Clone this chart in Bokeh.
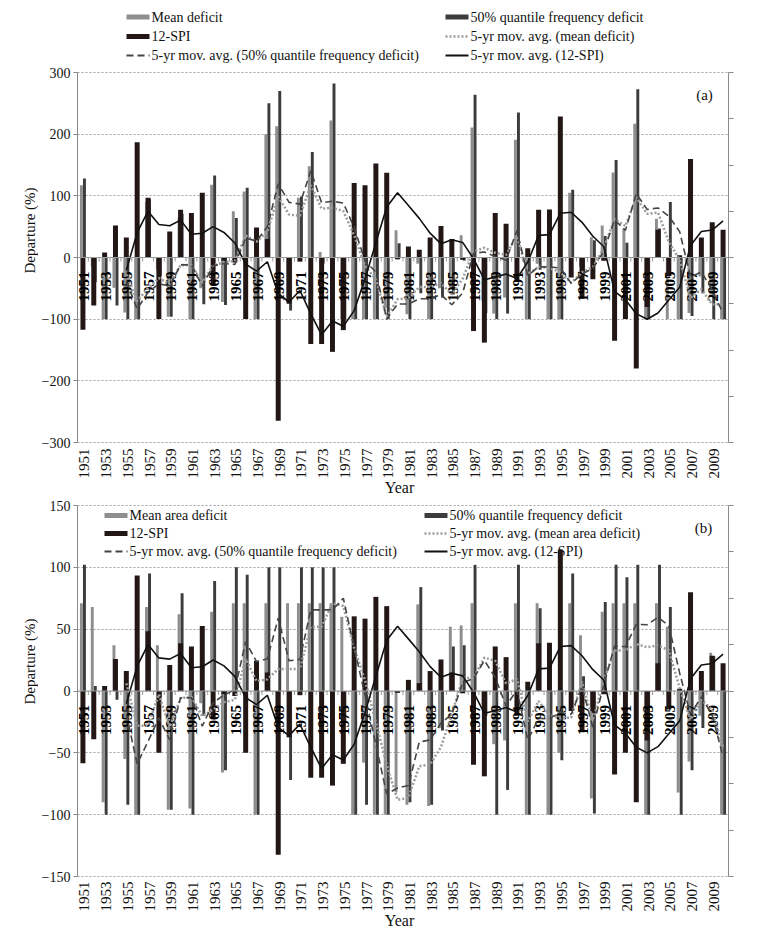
import math
import pandas as pd
from bokeh.plotting import figure
from bokeh.models import Range1d, LinearAxis, FixedTicker, Span
from bokeh.layouts import column, row
from bokeh.embed import file_html
from bokeh.resources import INLINE
from bokeh.core.properties import value

# ---------------- data ----------------
years = list(range(1951, 2011))
tick_years = list(range(1951, 2010, 2))
tick_labels = [str(y) for y in tick_years]

# 12-month SPI (secondary axis, -4..4)
spi_12 = [-1.56, -1.04, 0.11, 0.69, 0.43, 2.49, 1.29, -1.33, 0.56, 1.03,
          0.96, 1.40, -0.61, -0.07, -0.11, -1.33, 0.65, 0.40, -3.53, -1.00,
          -0.09, -1.87, -1.87, -2.04, -1.57, 1.61, 1.56, 2.03, 1.83, -0.04,
          0.24, 0.17, 0.43, 0.68, 0.40, -0.05, -1.59, -1.84, 0.96, 0.73,
          -0.53, 0.20, 1.03, 1.04, 3.05, -0.43, -0.89, -0.47, -0.07, -1.80,
          -1.33, -2.40, -1.07, 0.60, -0.40, 0.05, 2.13, 0.43, 0.76, 0.60]

# panel (a): departure (%)
mean_deficit = [117, -15, -100, -49, -89, -100, 90, -20, -96, 65,
                -100, -50, 118, -72, 75, 107, -100, 200, 213, -72,
                97, 148, 9, 222, -100, -100, -100, -100, -82, 44,
                -92, -10, -100, -50, -48, 36, 211, -70, -91, -65,
                191, -100, -10, -100, -100, 105, -15, 33, 52, 138,
                47, 217, -100, 63, -100, -100, -90, -31, -60, -100]
q50_deficit_a = [128, -40, -100, -78, -100, -100, 95, -30, -96, 71,
                 -100, -76, 133, -77, 64, 113, -100, 250, 270, -86,
                 99, 171, -10, 282, -100, -100, -100, -100, -100, 23,
                 -100, -58, -100, -65, -60, -5, 264, -90, -100, -91,
                 235, -100, -20, -100, -100, 110, -25, 28, 35, 158,
                 24, 273, -100, 47, 90, -100, -95, -58, -100, -100]

# panel (b): departure (%)
mean_area_deficit = [71, 68, -90, 37, -55, -100, 68, 37, -96, 62,
                     -95, -10, 64, -66, 71, 71, -100, 71, -24, 71,
                     71, 71, 71, 71, 60, -100, -58, -100, -100, -82,
                     -92, 70, -93, -30, 52, 53, 71, -11, -43, -40,
                     71, -100, 71, -100, -50, 71, 45, -87, 64, 71,
                     71, 71, -100, 71, 52, -82, -57, -20, 31, -100]
q50_deficit_b = [102, 4, -100, -7, -92, -100, 95, -5, -96, 79,
                 -100, -20, 89, -64, 100, 94, -100, 100, 100, -72,
                 100, 100, 100, 100, -25, -100, -92, -100, -100, 0,
                 -90, 84, -92, -32, 36, 37, 102, -20, -100, -80,
                 102, -100, 67, -100, -56, 95, 12, -99, 72, 102,
                 92, 102, -100, 102, 68, -100, -64, -30, 28, -100]

legend_a = ["Mean deficit", "12-SPI", "5-yr mov. avg. (50% quantile frequency deficit)",
            "50% quantile frequency deficit", "5-yr mov. avg. (mean deficit)",
            "5-yr mov. avg. (12-SPI)"]
legend_b = ["Mean area deficit", "12-SPI", "5-yr mov. avg. (50% quantile frequency deficit)",
            "50% quantile frequency deficit", "5-yr mov. avg. (mean area deficit)",
            "5-yr mov. avg. (12-SPI)"]
y_title = "Departure (%)"

# ---------------- style / layout ----------------
SERIF = "Liberation Serif"
C_MEAN = "#8e8e8e"
C_Q50 = "#3c3c3c"
C_SPI = "#221714"
C_MA_MEAN = "#9c9c9c"
C_MA_Q50 = "#454545"
C_MA_SPI = "#111111"
C_AXIS = "#8a8a8a"
C_TXT = "#111111"
PX0 = 1           # page x of layout's left edge
PY0 = 1           # page y of layout's top edge
TITLE_W = 38      # width of the strip holding the y titles
FRAME_L = 78      # page x of left axis
FRAME_W = 651
TOTAL_W = 763
PANEL_W = TOTAL_W - TITLE_W
PANEL_X0 = PX0 + TITLE_W


def ma5(vals):
    s = pd.Series(vals, dtype=float).rolling(5).mean()
    return years[4:], s.tolist()[4:]


def make_panel(mean_vals, q50_vals, legend_texts, tag, cfg):
    ftop, fbot = cfg["fig_top"], cfg["fig_bot"]
    ax_top, ax_bot = cfg["ax_top"], cfg["ax_bot"]
    ylim = cfg["ylim"]
    ys = (ax_bot - ax_top) / (2.0 * ylim)          # px per unit
    y_end = ylim + (ax_top - ftop) / ys
    y_start = -ylim - (fbot - ax_bot) / ys
    xs = FRAME_W / 60.0
    height = fbot - ftop

    def dx(px):
        return 1950.5 + (px - FRAME_L) / xs

    def dy(py):
        return y_end - (py - ftop) / ys

    spi_unit = ylim / 4.0
    p = figure(width=PANEL_W, height=height, output_backend="svg", toolbar_location=None,
               x_range=Range1d(1950.5, 2010.5), y_range=Range1d(y_start, y_end),
               min_border_left=FRAME_L - PANEL_X0,
               min_border_right=PANEL_W - (FRAME_L - PANEL_X0) - FRAME_W,
               min_border_top=0, min_border_bottom=0)
    p.extra_y_ranges = {"spi": Range1d(y_start / spi_unit, y_end / spi_unit)}
    p.outline_line_color = None
    p.background_fill_color = "white"
    p.border_fill_color = "white"
    p.xaxis.visible = False

    # grid
    step = ylim / 3.0
    yt = [-ylim + i * step for i in range(7)]
    p.xgrid.visible = False
    p.ygrid.ticker = FixedTicker(ticks=yt)
    p.ygrid.grid_line_color = "#a0a0a0"
    p.ygrid.grid_line_dash = "2 2"
    p.ygrid.grid_line_width = 1

    # left axis
    ya = p.yaxis[0]
    ya.ticker = FixedTicker(ticks=yt)
    ya.bounds = (-ylim, ylim)
    ya.major_label_overrides = {v: (("\u2212" + str(int(abs(v)))) if v < 0 else str(int(v))) for v in yt}
    ya.axis_line_color = C_AXIS
    ya.major_tick_line_color = C_AXIS
    ya.major_tick_out = 4
    ya.major_tick_in = 0
    ya.minor_tick_line_color = None
    ya.major_label_text_font = SERIF
    ya.major_label_text_font_size = "14px"
    ya.major_label_text_color = C_TXT
    ya.major_label_standoff = 3

    # right (secondary) axis, ticks only
    ra = LinearAxis(y_range_name="spi", ticker=FixedTicker(ticks=list(range(-4, 5))))
    ra.bounds = (-4, 4)
    ra.major_label_overrides = {i: "" for i in range(-4, 5)}
    ra.axis_line_color = C_AXIS
    ra.major_tick_line_color = C_AXIS
    ra.major_tick_out = 5
    ra.major_tick_in = 0
    ra.minor_tick_line_color = None
    p.add_layout(ra, "right")

    # legend (drawn first so bars lie over it)
    rows = cfg["leg_rows"]
    cols = cfg["leg_cols"]
    kinds = [("rect", C_MEAN), ("rect", C_SPI), ("dash", C_MA_Q50),
             ("rect", C_Q50), ("dot", C_MA_MEAN), ("solid", C_MA_SPI)]
    for k, (kind, col) in enumerate(kinds):
        cx = cols[k // 3]
        ry = rows[k % 3]
        if kind == "rect":
            p.rect(x=[dx(cx + 11.5)], y=[dy(ry)], width=23 / xs, height=5 / ys,
                   fill_color=col, line_color=None)
        else:
            dash = {"dash": "7 4", "dot": "2 2", "solid": "solid"}[kind]
            lw = {"dash": 2, "dot": 2.5, "solid": 2}[kind]
            p.segment(x0=[dx(cx)], y0=[dy(ry)], x1=[dx(cx + 23)], y1=[dy(ry)],
                      line_color=col, line_dash=dash, line_width=lw)
        p.text(x=[dx(cx + 25)], y=[dy(ry)], text=[legend_texts[k]],
               text_font=value(SERIF), text_font_size="14px", text_color=C_TXT,
               text_align="left", text_baseline="middle")

    p.text(x=[dx(cfg["tag_xy"][0])], y=[dy(cfg["tag_xy"][1])], text=[tag],
           text_font=value(SERIF), text_font_size="15px", text_color=C_TXT,
           text_align="center", text_baseline="middle")

    # bars
    p.vbar(x=[y - 0.14 for y in years], top=mean_vals, bottom=0, width=0.27,
           fill_color=C_MEAN, line_color=None)
    p.vbar(x=[y + 0.14 for y in years], top=q50_vals, bottom=0, width=0.27,
           fill_color=C_Q50, line_color=None)
    p.vbar(x=years, top=spi_12, bottom=0, width=0.46, y_range_name="spi",
           fill_color=C_SPI, line_color=None)

    # zero line with category ticks
    p.add_layout(Span(location=0, dimension="width", line_color="#9a9a9a", line_width=1))
    bnd = [y + 0.5 for y in years[:-1]]
    p.segment(x0=bnd, y0=[0] * len(bnd), x1=bnd, y1=[-4 / ys] * len(bnd),
              line_color="#9a9a9a", line_width=1)

    # bold category labels along the zero line
    p.text(x=tick_years, y=[0] * len(tick_years), text=tick_labels, angle=math.pi / 2,
           text_align="right", text_baseline="middle", y_offset=14, x_offset=1,
           text_font=value(SERIF), text_font_style="bold", text_font_size="15px",
           text_color="#000000")

    # 5-year moving averages
    xm, ym = ma5(mean_vals)
    p.line(xm, ym, line_color=C_MA_MEAN, line_dash="2 2", line_width=2.5)
    xq, yq = ma5(q50_vals)
    p.line(xq, yq, line_color=C_MA_Q50, line_dash="7 4", line_width=1.6)
    xsp, ysp = ma5(spi_12)
    p.line(xsp, ysp, line_color=C_MA_SPI, line_width=1.6, y_range_name="spi")

    # category (year) labels below the plot area and the x title
    p.text(x=tick_years, y=[dy(cfg["xlab_top"])] * len(tick_years), text=tick_labels,
           angle=math.pi / 2, text_align="right", text_baseline="middle", x_offset=1.5,
           text_font=value(SERIF), text_font_size="15px", text_color=C_TXT)
    p.text(x=[dx(400)], y=[dy(cfg["year_y"])], text=["Year"],
           text_font=value(SERIF), text_font_size="16px", text_color=C_TXT,
           text_align="center", text_baseline="middle")
    return p, height


cfg_a = dict(fig_top=PY0, fig_bot=498, ax_top=73, ax_bot=443, ylim=300,
             xlab_top=449, year_y=488,
             leg_rows=[17.5, 37, 56], leg_cols=[127, 446], tag_xy=(705, 95))
pa, ha = make_panel(mean_deficit, q50_deficit_a, legend_a, "(a)", cfg_a)

cfg_b = dict(fig_top=498, fig_bot=929, ax_top=506, ax_bot=877, ylim=150,
             xlab_top=882, year_y=921,
             leg_rows=[516, 534, 552], leg_cols=[105, 425], tag_xy=(704, 528))
pb, hb = make_panel(mean_area_deficit, q50_deficit_b, legend_b, "(b)", cfg_b)

# strip on the left carrying the two y-axis titles (page coordinates)
total_h = ha + hb
tfig = figure(width=TITLE_W, height=total_h, output_backend="svg", toolbar_location=None,
              x_range=Range1d(PX0, PX0 + TITLE_W), y_range=Range1d(PY0 + total_h, PY0),
              min_border_left=0, min_border_right=0, min_border_top=0, min_border_bottom=0)
tfig.axis.visible = False
tfig.grid.visible = False
tfig.outline_line_color = None
tfig.background_fill_color = "white"
tfig.border_fill_color = "white"
tfig.text(x=[30, 30], y=[231, 662], text=[y_title, y_title], angle=math.pi / 2,
          text_align="center", text_baseline="middle",
          text_font=value(SERIF), text_font_size="15px", text_color=C_TXT)

layout = row(tfig, column(pa, pb))
open("out.html", "w").write(file_html(layout, INLINE))
